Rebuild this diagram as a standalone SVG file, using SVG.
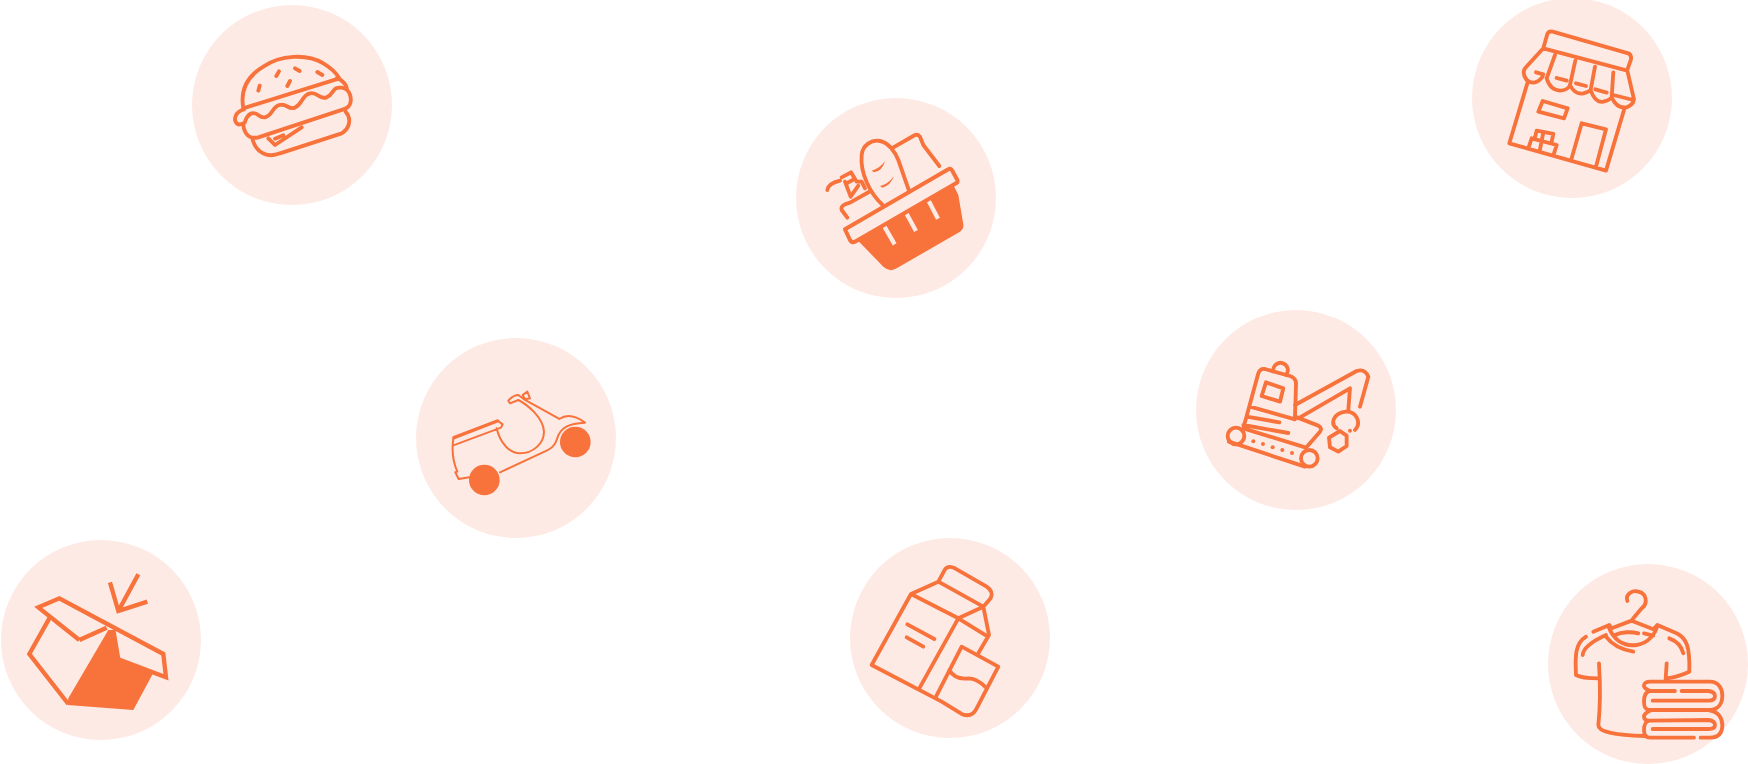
<svg xmlns="http://www.w3.org/2000/svg" width="1748" height="764" viewBox="0 0 1748 764">
<style>
.bg{fill:#FEEAE4}
.s{fill:none;stroke:#F8723C;stroke-width:11.5;stroke-linecap:round;stroke-linejoin:round}
.m{fill:none;stroke:#F8723C;stroke-width:13;stroke-linejoin:miter}
.t{fill:none;stroke:#F8723C;stroke-width:6;stroke-linecap:round;stroke-linejoin:round}
.f{fill:#F8723C}
.l{stroke:#FEEAE4;stroke-width:13;fill:none}
</style>
<rect width="1748" height="764" fill="#fff"/>
<g id="burger"><circle class="bg" cx="292" cy="105" r="100"/>
<g transform="translate(180 40) scale(.3333)">
<path class="s" d="M190 205C180 150 200 110 250 80C300 45 380 40 430 70C455 85 470 100 478 115ZM235 152L239 137M289 108L297 94M345 85L359 93M412 96L427 105M322 138L330 123"/>
<path class="s" d="M192 208C165 215 160 240 170 250C175 256 182 255 195 247C195 245 200 225 215 220C235 215 235 235 255 232C280 225 275 200 300 195C320 190 325 210 345 203C370 190 365 165 390 160C415 155 415 180 440 172C465 160 455 140 485 143C505 145 515 165 512 185C510 200 500 205 490 208L235 292C200 300 190 270 190 250M470 115C490 120 503 140 500 148"/>
<path class="s" d="M497 215C515 235 510 265 485 280L300 340C265 355 230 340 218 300M265 295L285 315L365 262M285 296L310 286"/>
</g></g>
<g id="shop"><circle class="bg" cx="1572" cy="98" r="100"/>
<g transform="translate(1500 10) scale(.3333)">
<path class="s" d="M130 115L142 72Q146 62 158 65L385 130Q395 135 393 148L382 180M130 115L382 182M130 115L75 175Q65 190 80 210Q105 230 128 200M165 135L140 205Q150 240 180 242Q205 240 210 225L226 152M210 225Q225 255 250 250Q268 245 272 240L285 170M272 240Q285 280 310 275Q330 270 335 262L340 187M335 262Q350 297 380 292Q400 285 402 268L382 182M108 187L130 193M170 204L200 212M228 220L258 228M286 238L320 248M340 255L400 270M82 220L28 400L318 482L372 300M215 445L245 340L318 358L288 470M128 273L203 295L192 325L115 305ZM85 415L95 385L170 405L162 430M105 382L110 362L160 372L155 395M130 368L120 418"/>
</g></g>
<g id="basket"><circle class="bg" cx="896" cy="198" r="100"/>
<g transform="translate(820 130) scale(.3333)">
<path class="f" d="M112 330L190 410Q210 428 230 415L420 305Q432 297 430 283L415 195L400 165L105 325Z"/>
<path class="l" d="M193 289L224 343M259 250L288 303M326 212L354 266"/>
<path d="M75 298L385 118Q392 113 397 122L412 150Q415 157 408 160L105 335Q95 340 90 330Z" fill="#FEEAE4" stroke="#F8723C" stroke-width="12" stroke-linejoin="round"/>
<path class="s" d="M188 225C150 190 120 130 125 75C128 45 155 28 180 33C205 38 225 65 235 90L268 185M215 55L285 15Q295 12 300 20L310 45L358 108M152 183L90 218Q60 225 65 240L82 263M22 180Q25 160 60 152M65 142L93 127L110 155L125 155L135 175M75 155L92 200L115 167M80 160L98 150"/>
<path class="f" d="M155 122Q180 115 195 93Q188 122 162 127ZM180 168Q205 162 222 138Q212 166 187 173Z"/>
</g></g>
<g id="scooter"><circle class="bg" cx="516" cy="438" r="100"/>
<g transform="translate(400 340) scale(.3333)">
<circle class="f" cx="253" cy="420" r="46"/><circle class="f" cx="526" cy="306" r="46"/>
<path class="t" d="M160 295Q152 350 172 395L166 397L176 417L208 412M160 316L303 263L308 253L293 242M290 265C300 310 330 340 360 340C400 340 432 310 432 275C430 235 385 195 355 180L330 190L325 182Q340 165 355 165L375 180L478 237Q510 215 555 248C510 250 480 260 470 300C465 315 455 325 440 332L300 397M368 165L382 155L390 175L375 178Z"/>
<path class="t" style="stroke-width:10" d="M162 293L292 243"/>
</g></g>
<g id="excavator"><circle class="bg" cx="1296" cy="410" r="100"/>
<g transform="translate(1180 360) scale(.3333)">
<circle class="s" cx="168" cy="228" r="25"/><circle class="s" cx="388" cy="295" r="25"/>
<path class="s" d="M147 245L375 320M190 205L378 263M190 205L235 40Q240 25 255 27L330 48Q350 55 348 75L345 170L415 197Q428 205 420 215L378 263M210 140L345 178M200 170L298 187M190 195L325 219M280 35A22 22 0 1 1 318 45M258 67L310 85L300 125L245 108ZM345 135L530 33Q555 25 565 50L540 140M355 175L510 85L505 150M497 155C460 160 450 190 470 205M500 155C530 155 545 190 525 210M480 213L500 227L500 258L475 275L450 262L447 233Z"/>
<g class="f"><circle cx="220" cy="244" r="6"/><circle cx="249" cy="252" r="6"/><circle cx="278" cy="262" r="6"/><circle cx="307" cy="270" r="6"/><circle cx="336" cy="279" r="6"/><circle cx="510" cy="212" r="6"/></g>
</g></g>
<g id="box"><circle class="bg" cx="101" cy="640" r="100"/>
<g transform="translate(0 530) scale(.3333)">
<path class="f" d="M325 300L205 505L203 525L400 540L458 432L355 388L340 300Z"/>
<path class="m" d="M415 133L358 238M330 157L355 243L442 215M238 330L115 232L178 205L490 372L498 442L355 388L340 300M238 330L320 293M148 265L88 372L205 522"/>
</g></g>
<g id="milk"><circle class="bg" cx="950" cy="638" r="100"/>
<g transform="translate(840 530) scale(.3333)">
<path class="s" d="M213 192L95 405L305 515M213 192L355 265L238 475M213 192L295 155L430 230L355 265M295 155L315 118Q325 105 345 115L440 170Q462 185 452 205L430 230L447 315L415 370M355 265L440 318M202 283L283 327M200 322L250 350M288 500L365 350L475 410L410 535Q395 565 365 552L305 515M328 420Q345 450 385 445Q410 445 435 470"/>
</g></g>
<g id="clothes"><circle class="bg" cx="1648" cy="664" r="100"/>
<g transform="translate(1570 590) scale(.3333)">
<path class="s" d="M172 33C165 10 190 0 205 5C230 10 235 40 215 55L190 85L185 92M125 115L185 92L250 118L262 105L320 130C350 145 360 170 358 245C330 258 310 262 290 265M115 108C130 150 160 170 200 165C235 160 258 130 262 105M135 135C155 125 185 125 205 130M222 130L250 137M70 125L118 105L125 115M48 140C15 160 15 200 18 255C35 265 60 265 85 265M108 135C75 150 40 170 38 195M108 140C130 170 160 180 190 185M298 145C325 155 335 170 340 190M87 220C92 300 90 360 85 405C85 425 130 435 225 438M290 220L287 268"/>
<path class="s" d="M315 303L240 303Q220 295 222 285Q225 275 240 275L420 275C445 275 457 295 457 317C457 340 445 358 420 360L240 360C225 360 222 350 222 335C222 315 230 305 240 303M335 303L415 303Q435 305 435 318Q435 332 415 332L248 332M240 362Q222 370 222 380Q222 392 240 392L415 390Q435 392 435 405Q435 417 415 417L248 417M240 392C230 392 222 402 222 420C222 430 225 443 240 443L372 443M392 443L420 443C445 443 457 430 457 405C457 385 445 365 420 362"/>
</g></g>
</svg>
